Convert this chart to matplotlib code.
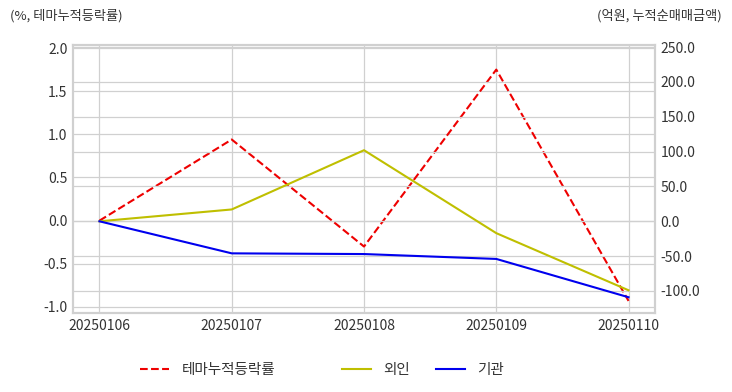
import matplotlib.pyplot as plt
import numpy as np

plt.rcParams['font.family'] = ['Noto Sans CJK KR', 'DejaVu Sans']

dates = ['20250106', '20250107', '20250108', '20250109', '20250110']
theme_rate = [0.0, 0.94, -0.30, 1.75, -0.93]
foreign = [0.0, 17.0, 102.0, -17.0, -99.0]
institution = [0.0, -46.0, -47.0, -54.0, -109.0]

left_ticks = [-1.0, -0.5, 0.0, 0.5, 1.0, 1.5, 2.0]
right_ticks = [-100.0, -50.0, 0.0, 50.0, 100.0, 150.0, 200.0, 250.0]

grid_c = '#d0d0d0'
text_c = '#333333'

fig = plt.figure(figsize=(7.32, 3.92), dpi=100)
ax = fig.add_axes([73 / 732, 1 - 313 / 392, 582 / 732, 268 / 392])
ax2 = ax.twinx()

x = np.arange(len(dates))
l1, = ax.plot(x, theme_rate, color='#ee0000', linestyle='--', linewidth=1.5, label='테마누적등락률')
l2, = ax2.plot(x, foreign, color='#bfbf00', linewidth=1.5, label='외인')
l3, = ax2.plot(x, institution, color='#0000ee', linewidth=1.5, label='기관')

ax.set_xlim(-0.2, 4.2)
ax.set_ylim(-1.07, 2.035)
ax2.set_ylim(-131.6, 253)
ax.set_xticks(x)
ax.set_xticklabels(dates)
ax.set_yticks(left_ticks)
ax.set_yticklabels(['%.1f' % v for v in left_ticks])
ax2.set_yticks(right_ticks)
ax2.set_yticklabels(['%.1f' % v for v in right_ticks])

ax.grid(True, color=grid_c, linewidth=0.9)
ax2.grid(True, axis='y', color=grid_c, linewidth=0.9)
ax.set_axisbelow(True)
ax2.set_axisbelow(True)

for a in (ax, ax2):
    a.tick_params(length=0, labelsize=10, colors=text_c, pad=4)
    for s in a.spines.values():
        s.set_color(grid_c)
        s.set_linewidth(1.5)

fig.text(10 / 732, 1 - 16 / 392, '(%, 테마누적등락률)', fontsize=9.5, color=text_c, va='center', ha='left')
fig.text(722 / 732, 1 - 16 / 392, '(억원, 누적순매매금액)', fontsize=9.5, color=text_c, va='center', ha='right')

# legend items placed one by one, like the original
for h, lx in [(l1, 140), (l2, 342), (l3, 436)]:
    fig.legend(handles=[h], loc='center left', bbox_to_anchor=(lx / 732, 1 - 370 / 392),
               frameon=False, fontsize=10.5, handlelength=2.0, handletextpad=0.85,
               borderpad=0, borderaxespad=0, labelcolor=text_c)

fig.savefig('out.png', dpi=100)
